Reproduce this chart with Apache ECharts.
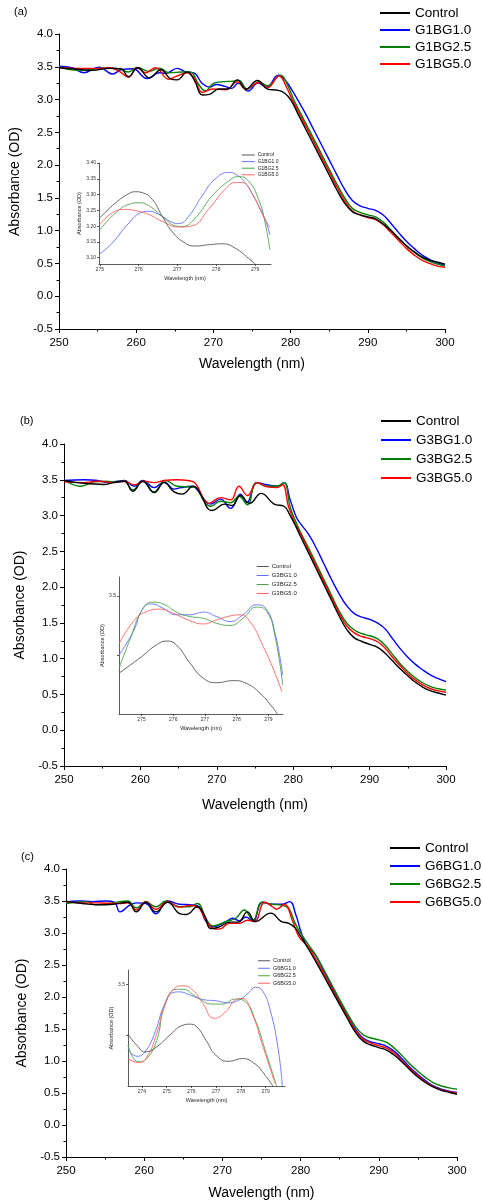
<!DOCTYPE html>
<html>
<head>
<meta charset="utf-8">
<script src="https://cdn.jsdelivr.net/npm/echarts@6/dist/echarts.min.js"></script>
<style>
html, body { margin: 0; padding: 0; background: #fff; }
#chart { width: 483px; height: 1202px; }
</style>
</head>
<body>
<div id="chart"></div>
<script>
// series names for the three panels
const aNames = ['Control', 'G1BG1.0', 'G1BG2.5', 'G1BG5.0'];
const bNames = ['Control', 'G3BG1.0', 'G3BG2.5', 'G3BG5.0'];
const cNames = ['Control', 'G6BG1.0', 'G6BG2.5', 'G6BG5.0'];

// panel (a) main spectra [wavelength nm, absorbance OD]
const aControl = [[250,3.485],[252.6,3.46],[254.3,3.445],[256.5,3.475],[258,3.47],[259,3.35],[260.2,3.485],[261.7,3.33],[263.2,3.455],[264.4,3.32],[265.3,3.30],[266.6,3.42],[267.5,3.30],[268.6,3.07],[269.5,3.08],[270.7,3.16],[271.8,3.16],[273.1,3.30],[274.2,3.16],[275.7,3.29],[277,3.16],[278.4,3.14],[279.2,3.10],[280,3.0],[281,2.77],[282,2.54],[283,2.31],[284,2.08],[285,1.85],[286,1.62],[287,1.42],[288,1.29],[289,1.24],[290,1.21],[291,1.18],[292,1.10],[293,1.00],[294,0.88],[295,0.77],[296,0.68],[297,0.60],[298,0.55],[299,0.52],[300,0.49]];
const aG1 = [[250,3.51],[251.7,3.485],[253.2,3.41],[255.2,3.495],[256.9,3.39],[258.2,3.46],[259.6,3.47],[261.4,3.32],[263,3.41],[263.8,3.40],[265.3,3.475],[266.5,3.42],[267.4,3.41],[268.6,3.24],[269.5,3.19],[270.4,3.23],[271.5,3.20],[272.4,3.17],[273.2,3.25],[274.5,3.13],[275.8,3.25],[276.9,3.19],[278.4,3.37],[279.4,3.28],[280.3,3.12],[281,2.98],[282,2.77],[283,2.54],[284,2.31],[285,2.08],[286,1.85],[287,1.63],[288,1.46],[289,1.38],[290,1.34],[291,1.31],[292,1.24],[293,1.11],[294,0.97],[295,0.84],[296,0.73],[297,0.63],[298,0.56],[299,0.51],[300,0.47]];
const aG25 = [[250,3.495],[252.6,3.445],[254.3,3.46],[256.5,3.485],[258,3.46],[259,3.42],[260.1,3.49],[261.7,3.43],[263,3.48],[264.2,3.41],[266,3.42],[267,3.42],[268.1,3.23],[269,3.13],[269.9,3.24],[271,3.27],[272.5,3.28],[273.3,3.29],[274.4,3.16],[275.9,3.27],[277,3.21],[278.7,3.37],[279.6,3.22],[280.4,3.0],[281,2.86],[282,2.63],[283,2.40],[284,2.17],[285,1.94],[286,1.71],[287,1.50],[288,1.34],[289,1.28],[290,1.24],[291,1.21],[292,1.13],[293,1.01],[294,0.89],[295,0.77],[296,0.67],[297,0.59],[298,0.53],[299,0.49],[300,0.46]];
const aG5 = [[250,3.485],[252.6,3.475],[255.2,3.475],[256.5,3.485],[257.8,3.43],[259,3.34],[260.1,3.485],[261.2,3.41],[262.5,3.485],[264.2,3.31],[265.3,3.36],[266.6,3.41],[267.5,3.33],[268.6,3.11],[269.9,3.16],[271.6,3.15],[273.1,3.27],[274.2,3.16],[275.9,3.26],[277,3.18],[278.5,3.36],[279.5,3.18],[280.2,3.0],[281,2.82],[282,2.59],[283,2.36],[284,2.13],[285,1.90],[286,1.67],[287,1.46],[288,1.30],[289,1.24],[290,1.20],[291,1.17],[292,1.09],[293,0.97],[294,0.85],[295,0.73],[296,0.63],[297,0.55],[298,0.50],[299,0.46],[300,0.44]];

// panel (b) main spectra
const bControl = [[250,3.49],[251.7,3.46],[253.5,3.445],[255.2,3.435],[256.5,3.46],[257.9,3.48],[259,3.34],[260.3,3.48],[261.8,3.32],[263.1,3.46],[264.4,3.33],[265.5,3.30],[266.9,3.41],[267.9,3.30],[268.8,3.10],[269.4,3.07],[271,3.16],[272,3.14],[273.1,3.28],[274.3,3.17],[275.8,3.31],[277.5,3.16],[278.8,3.13],[279.6,3.0],[280.2,2.88],[281,2.70],[282,2.48],[283,2.26],[284,2.04],[285,1.82],[286,1.60],[287,1.41],[288,1.29],[289,1.24],[290,1.20],[291,1.16],[292,1.08],[293,0.97],[294,0.86],[295,0.76],[296,0.67],[297,0.60],[298,0.55],[299,0.52],[300,0.49]];
const bG1 = [[250,3.49],[252.6,3.50],[254.4,3.49],[255.7,3.46],[257,3.48],[257.9,3.49],[259.2,3.41],[260.3,3.49],[261.8,3.39],[263.1,3.47],[264.4,3.37],[265.3,3.39],[266.6,3.41],[267.2,3.39],[268.3,3.23],[269.2,3.16],[270.5,3.23],[271.8,3.10],[273.1,3.30],[273.9,3.18],[275.3,3.46],[276.6,3.43],[277.9,3.41],[278.8,3.46],[279.6,3.22],[280.4,2.98],[281,2.88],[282,2.74],[283,2.55],[284,2.33],[285,2.11],[286,1.91],[287,1.74],[288,1.63],[289,1.58],[290,1.55],[291,1.50],[292,1.42],[293,1.28],[294,1.14],[295,1.02],[296,0.92],[297,0.84],[298,0.77],[299,0.72],[300,0.68]];
const bG25 = [[250,3.50],[252.2,3.41],[253.9,3.47],[255.2,3.48],[256.5,3.47],[257.9,3.48],[259,3.36],[260.3,3.48],[261.8,3.33],[263.3,3.49],[264.8,3.41],[266.6,3.40],[267.2,3.40],[268.3,3.20],[269.2,3.13],[270.5,3.20],[271.8,3.18],[272.9,3.27],[274,3.15],[275.2,3.46],[276.6,3.41],[277.9,3.41],[278.8,3.46],[279.6,3.12],[280.4,2.90],[281,2.76],[282,2.55],[283,2.33],[284,2.11],[285,1.89],[286,1.67],[287,1.50],[288,1.40],[289,1.35],[290,1.32],[291,1.28],[292,1.19],[293,1.06],[294,0.93],[295,0.82],[296,0.73],[297,0.66],[298,0.61],[299,0.58],[300,0.56]];
const bG5 = [[250,3.47],[252.6,3.46],[254.4,3.48],[256.5,3.46],[257.9,3.48],[259.2,3.43],[260.5,3.48],[261.8,3.46],[263.1,3.49],[264.8,3.50],[266.2,3.49],[267.2,3.45],[268.3,3.23],[268.9,3.17],[270.5,3.25],[271.8,3.22],[272.9,3.41],[274,3.28],[275.3,3.46],[276.6,3.40],[277.9,3.39],[278.6,3.43],[279.4,3.12],[280.2,2.90],[281,2.74],[282,2.52],[283,2.30],[284,2.08],[285,1.86],[286,1.64],[287,1.46],[288,1.36],[289,1.31],[290,1.28],[291,1.24],[292,1.15],[293,1.02],[294,0.90],[295,0.79],[296,0.70],[297,0.63],[298,0.58],[299,0.55],[300,0.53]];

// panel (c) main spectra
const cControl = [[250,3.49],[252.1,3.46],[254.3,3.44],[256,3.45],[257.9,3.48],[259,3.33],[260.2,3.48],[261.5,3.33],[263,3.48],[264.6,3.30],[265.4,3.29],[266.8,3.41],[267.7,3.28],[268.5,3.07],[269.5,3.09],[271,3.17],[272,3.17],[273.2,3.33],[274.2,3.18],[276.2,3.31],[277.5,3.18],[278.5,3.15],[279.3,3.08],[280,2.95],[281,2.75],[282,2.54],[283,2.32],[284,2.10],[285,1.88],[286,1.66],[287,1.45],[288,1.31],[289,1.25],[290,1.21],[291,1.17],[292,1.09],[293,0.98],[294,0.86],[295,0.75],[296,0.66],[297,0.59],[298,0.54],[299,0.51],[300,0.48]];
const cG1 = [[250,3.49],[251.7,3.50],[253.4,3.49],[255.1,3.50],[256.2,3.48],[256.9,3.33],[258.2,3.44],[259,3.47],[260.2,3.46],[261.5,3.30],[263,3.50],[264.5,3.45],[266.2,3.44],[267,3.41],[267.9,3.18],[268.8,3.10],[270.5,3.18],[271.3,3.23],[272.2,3.19],[273,3.25],[273.9,3.18],[275.1,3.48],[276.4,3.45],[277.7,3.45],[278.6,3.49],[279.4,3.28],[280.1,3.0],[280.8,2.80],[281.5,2.72],[282,2.64],[283,2.40],[284,2.16],[285,1.93],[286,1.71],[287,1.50],[288,1.36],[289,1.30],[290,1.27],[291,1.23],[292,1.15],[293,1.03],[294,0.90],[295,0.79],[296,0.69],[297,0.61],[298,0.56],[299,0.53],[300,0.51]];
const cG25 = [[250,3.46],[252.6,3.49],[253.8,3.44],[255.5,3.46],[256.8,3.49],[257.9,3.50],[259,3.39],[260.2,3.49],[261.5,3.41],[262.8,3.50],[264.5,3.41],[265.8,3.41],[266.8,3.46],[267.9,3.23],[268.8,3.11],[270.5,3.18],[271.7,3.23],[272.8,3.36],[273.9,3.20],[275.1,3.48],[276.4,3.45],[277.7,3.43],[278.5,3.38],[279.3,3.15],[280,3.0],[281,2.82],[282,2.64],[283,2.42],[284,2.19],[285,1.96],[286,1.74],[287,1.54],[288,1.41],[289,1.36],[290,1.33],[291,1.29],[292,1.20],[293,1.08],[294,0.95],[295,0.84],[296,0.74],[297,0.66],[298,0.61],[299,0.58],[300,0.56]];
const cG5 = [[250,3.49],[252,3.47],[254,3.47],[256.8,3.46],[257.9,3.47],[259,3.36],[260.2,3.49],[261.5,3.37],[263,3.49],[264.5,3.40],[265.8,3.43],[266.8,3.41],[267.9,3.20],[268.8,3.07],[269.6,3.06],[270.9,3.15],[272.2,3.15],[273.2,3.20],[274.1,3.18],[275.4,3.48],[276.4,3.41],[276.9,3.37],[277.9,3.45],[279,3.18],[279.8,2.94],[281,2.78],[282,2.58],[283,2.36],[284,2.13],[285,1.91],[286,1.69],[287,1.48],[288,1.34],[289,1.28],[290,1.24],[291,1.20],[292,1.12],[293,1.00],[294,0.88],[295,0.77],[296,0.67],[297,0.60],[298,0.55],[299,0.52],[300,0.50]];

// insets (zoom on 274-280 nm)
const iaControl = [[275,3.226],[275.41,3.274],[275.75,3.303],[275.92,3.309],[276.09,3.306],[276.35,3.285],[276.61,3.231],[276.86,3.183],[277.2,3.146],[277.46,3.137],[277.8,3.141],[278.15,3.144],[278.49,3.13],[278.83,3.098],[279.0,3.08]];
const iaG1 = [[275,3.112],[275.32,3.146],[275.75,3.21],[276.09,3.244],[276.26,3.247],[276.52,3.237],[276.86,3.212],[277.03,3.208],[277.29,3.231],[277.63,3.295],[277.97,3.349],[278.32,3.37],[278.49,3.365],[278.74,3.338],[279.0,3.285],[279.26,3.221],[279.38,3.172]];
const iaG25 = [[275,3.188],[275.41,3.242],[275.75,3.269],[276.01,3.274],[276.26,3.265],[276.61,3.231],[276.95,3.201],[277.12,3.199],[277.46,3.226],[277.89,3.295],[278.32,3.343],[278.57,3.357],[278.83,3.343],[279.09,3.285],[279.26,3.21],[279.38,3.124]];
const iaG5 = [[275,3.204],[275.32,3.242],[275.67,3.253],[275.92,3.249],[276.26,3.237],[276.61,3.215],[277.03,3.197],[277.38,3.201],[277.8,3.253],[278.23,3.317],[278.49,3.338],[278.66,3.338],[278.91,3.306],[279.17,3.242],[279.38,3.195]];

const ibControl = [[274.29,3.238],[275,3.294],[275.47,3.334],[275.79,3.347],[276.1,3.334],[276.53,3.272],[276.95,3.221],[277.37,3.206],[277.89,3.213],[278.3,3.204],[278.74,3.170],[279.16,3.119],[279.28,3.10]];
const ibG1 = [[274.29,3.30],[274.74,3.379],[275.05,3.458],[275.32,3.473],[275.68,3.458],[276.1,3.436],[276.53,3.436],[276.95,3.445],[277.37,3.43],[277.79,3.413],[278.2,3.436],[278.63,3.47],[278.95,3.453],[279.21,3.373],[279.45,3.232]];
const ibG25 = [[274.29,3.255],[274.63,3.351],[275.05,3.458],[275.37,3.479],[275.74,3.47],[276.1,3.445],[276.53,3.43],[276.95,3.424],[277.37,3.407],[277.79,3.40],[278.2,3.424],[278.63,3.462],[278.95,3.447],[279.21,3.362],[279.45,3.198]];
const ibG5 = [[274.29,3.337],[274.74,3.413],[275.16,3.447],[275.58,3.455],[276.0,3.441],[276.53,3.416],[276.95,3.405],[277.37,3.419],[277.79,3.432],[278.1,3.436],[278.42,3.413],[278.84,3.328],[279.21,3.238],[279.42,3.176]];

const icControl = [[273.44,3.304],[273.8,3.26],[274.13,3.234],[274.6,3.254],[275.13,3.30],[275.66,3.339],[275.93,3.343],[276.19,3.335],[276.59,3.28],[276.99,3.221],[277.52,3.197],[278.05,3.208],[278.58,3.186],[278.98,3.142],[279.29,3.10]];
const icG1 = [[273.44,3.247],[273.8,3.217],[274.07,3.228],[274.46,3.293],[274.93,3.425],[275.26,3.467],[275.53,3.47],[275.93,3.458],[276.46,3.44],[276.99,3.435],[277.52,3.427],[277.92,3.438],[278.32,3.467],[278.58,3.488],[278.85,3.477],[279.18,3.399],[279.51,3.241],[279.67,3.10]];
const icG25 = [[273.44,3.26],[273.87,3.195],[274.2,3.208],[274.6,3.28],[274.93,3.418],[275.39,3.48],[275.66,3.48],[276.19,3.451],[276.86,3.422],[277.25,3.422],[277.78,3.442],[278.18,3.431],[278.58,3.359],[278.98,3.241],[279.44,3.10]];
const icG5 = [[273.44,3.208],[273.87,3.192],[274.2,3.214],[274.6,3.306],[274.93,3.418],[275.33,3.484],[275.66,3.494],[276.06,3.477],[276.46,3.425],[276.92,3.366],[277.39,3.392],[277.78,3.438],[278.05,3.444],[278.45,3.385],[278.85,3.267],[279.38,3.109]];

// tick values
const insetXTicksAB = [275, 276, 277, 278, 279];
const insetXTicksC = [274, 275, 276, 277, 278, 279];
const insetYTicksA = [3.10, 3.15, 3.20, 3.25, 3.30, 3.35, 3.40];
const insetYTicksBC = [3.3, 3.5];
const insetYLabelsBC = [3.5];

const FONT = 'Liberation Sans, Arial, sans-serif';
const mainColors = ['#000000', '#0000ff', '#008000', '#ff0000'];
const insetColors = ['#555555', '#6272ff', '#4ca44c', '#ff6262'];

const panels = [
  {
    tag: '(a)', names: aNames, main: [aControl, aG1, aG25, aG5], inset: [iaControl, iaG1, iaG25, iaG5],
    grid: { left: 59, top: 34, width: 386, height: 295 }, yGap: 32, xGap: 28,
    legend: { left: 380, top: 6, gap: 3 }, tagPos: [14, 13],
    ig: { left: 99, top: 163, width: 172, height: 101 }, ix: [274.98, 279.41, insetXTicksAB], iy: [3.08, 3.40, insetYTicksA, insetYTicksA, 2],
    iyGap: 17, ilegend: { left: 241.7, top: 152, gap: 0.6, font: 5, w: 13 }
  },
  {
    tag: '(b)', names: bNames, main: [bControl, bG1, bG25, bG5], inset: [ibControl, ibG1, ibG25, ibG5],
    grid: { left: 64, top: 444, width: 382, height: 322 }, yGap: 32, xGap: 32,
    legend: { left: 381, top: 414, gap: 5 }, tagPos: [20, 422],
    ig: { left: 119, top: 577, width: 164, height: 137 }, ix: [274.29, 279.46, insetXTicksAB], iy: [3.1, 3.564, insetYTicksBC, insetYLabelsBC, 1],
    iyGap: 12, ilegend: { left: 256.7, top: 563, gap: 2, font: 6, w: 12 }
  },
  {
    tag: '(c)', names: cNames, main: [cControl, cG1, cG25, cG5], inset: [icControl, icG1, icG25, icG5],
    grid: { left: 66, top: 869, width: 391, height: 288 }, yGap: 36, xGap: 29,
    legend: { left: 390, top: 841, gap: 4 }, tagPos: [21, 858],
    ig: { left: 128, top: 970, width: 157, height: 116 }, ix: [273.44, 279.78, insetXTicksC], iy: [3.1, 3.556, insetYTicksBC, insetYLabelsBC, 1],
    iyGap: 12, ilegend: { left: 258, top: 957.5, gap: 1, font: 5.5, w: 12 }
  }
];

const grids = [], xAxes = [], yAxes = [], series = [], legends = [], graphics = [];

panels.forEach((p, k) => {
  const gi = grids.length;
  grids.push(Object.assign({ containLabel: false }, p.grid));
  const ii = grids.length;
  grids.push(Object.assign({ containLabel: false }, p.ig));

  const axisBase = {
    axisLine: { show: true, onZero: false, lineStyle: { color: '#000', width: 1 } },
    splitLine: { show: false },
    nameLocation: 'middle',
    nameTextStyle: { color: '#000', fontSize: 14, fontFamily: FONT }
  };
  xAxes.push(Object.assign({}, axisBase, {
    type: 'value', gridIndex: gi, min: 250, max: 300, interval: 10,
    axisTick: { show: true, length: 4, lineStyle: { color: '#000' } },
    minorTick: { show: true, splitNumber: 2, length: 2.5, lineStyle: { color: '#000' } },
    axisLabel: { color: '#000', fontSize: 11.5, fontFamily: FONT, margin: 8 },
    name: 'Wavelength (nm)', nameGap: p.xGap
  }));
  yAxes.push(Object.assign({}, axisBase, {
    type: 'value', gridIndex: gi, min: -0.5, max: 4.0, interval: 0.5,
    axisTick: { show: true, length: 4, lineStyle: { color: '#000' } },
    minorTick: { show: true, splitNumber: 2, length: 2.5, lineStyle: { color: '#000' } },
    axisLabel: { color: '#000', fontSize: 11.5, fontFamily: FONT, margin: 6, formatter: v => v.toFixed(1) },
    name: 'Absorbance (OD)', nameGap: p.yGap
  }));

  // inset axes
  const insetBase = {
    axisLine: { show: true, onZero: false, lineStyle: { color: '#333', width: 0.8 } },
    splitLine: { show: false },
    nameLocation: 'middle',
    nameTextStyle: { color: '#222', fontSize: 5.5, fontFamily: FONT }
  };
  xAxes.push(Object.assign({}, insetBase, {
    type: 'value', gridIndex: ii, min: p.ix[0], max: p.ix[1],
    axisTick: { show: true, length: 2, customValues: p.ix[2], lineStyle: { color: '#333', width: 0.8 } },
    axisLabel: { color: '#333', fontSize: 5, fontFamily: FONT, margin: 3, customValues: p.ix[2] },
    name: 'Wavelength (nm)', nameGap: 11
  }));
  yAxes.push(Object.assign({}, insetBase, {
    type: 'value', gridIndex: ii, min: p.iy[0], max: p.iy[1],
    axisTick: { show: true, length: 2, customValues: p.iy[2], lineStyle: { color: '#333', width: 0.8 } },
    axisLabel: { color: '#333', fontSize: 5, fontFamily: FONT, margin: 3, customValues: p.iy[3], formatter: v => v.toFixed(p.iy[4]) },
    name: 'Absorbance (OD)', nameGap: p.iyGap
  }));

  // main series: draw coloured first, Control on top
  [1, 2, 3, 0].forEach(s => {
    series.push({
      type: 'line', name: p.names[s], data: p.main[s], xAxisIndex: gi, yAxisIndex: gi,
      smooth: 0.45, symbol: 'none', lineStyle: { width: 1.4, color: mainColors[s] },
      itemStyle: { color: mainColors[s] }, silent: true, animation: false
    });
  });
  [1, 2, 3, 0].forEach(s => {
    series.push({
      type: 'line', name: p.names[s], data: p.inset[s], xAxisIndex: ii, yAxisIndex: ii,
      smooth: 0.5, symbol: 'none', lineStyle: { width: 0.9, color: insetColors[s] },
      itemStyle: { color: insetColors[s] }, silent: true, animation: false, clip: true
    });
  });

  legends.push({
    orient: 'vertical', left: p.legend.left, top: p.legend.top, itemGap: p.legend.gap, padding: 0,
    itemWidth: 30, itemHeight: 2, icon: 'rect', selectedMode: false,
    textStyle: { color: '#000', fontSize: 13.5, lineHeight: 14, fontFamily: FONT },
    data: p.names.map((n, s) => ({ name: n, itemStyle: { color: mainColors[s] } }))
  });
  legends.push({
    orient: 'vertical', left: p.ilegend.left, top: p.ilegend.top, itemGap: p.ilegend.gap, padding: 0,
    itemWidth: p.ilegend.w, itemHeight: 1, icon: 'rect', selectedMode: false,
    textStyle: { color: '#222', fontSize: p.ilegend.font, lineHeight: p.ilegend.font + 1, fontFamily: FONT, padding: [0, 0, 0, -2] },
    data: p.names.map((n, s) => ({ name: n, itemStyle: { color: insetColors[s] } }))
  });

  graphics.push({
    type: 'text', left: p.tagPos[0], top: p.tagPos[1] - 7,
    style: { text: p.tag, fill: '#000', fontSize: 11, fontFamily: FONT }
  });
});

const chart = echarts.init(document.getElementById('chart'), null, { renderer: 'canvas' });
chart.setOption({
  backgroundColor: '#fff',
  animation: false,
  grid: grids,
  xAxis: xAxes,
  yAxis: yAxes,
  legend: legends,
  graphic: graphics,
  series: series
});
</script>
</body>
</html>
